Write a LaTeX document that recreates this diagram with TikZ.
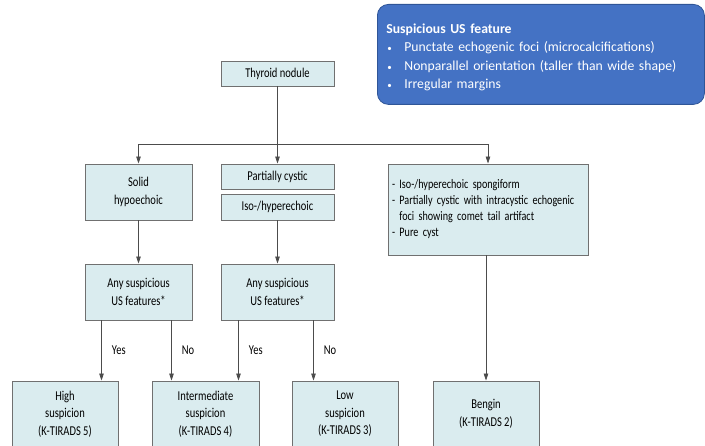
\documentclass[tikz,border=0pt]{standalone}
\usepackage{fontspec}
\setmainfont[FakeStretch=0.78]{Carlito}
\newfontfamily\featfont{Carlito}
\usepackage{xcolor}
\usetikzlibrary{arrows.meta}
\definecolor{boxfill}{HTML}{DAECEF}
\definecolor{boxline}{HTML}{707070}
\definecolor{featfill}{HTML}{4472C4}
\definecolor{featline}{HTML}{2F5597}
\newcommand{\featitem}{\makebox[18pt][l]{\hspace{1pt}\small\textbullet}}

\begin{document}
\begin{tikzpicture}[x=1pt,y=-1pt,
  box/.style={draw=boxline,line width=0.9pt,fill=boxfill,align=center,inner sep=2pt,
    font=\fontsize{13.5}{17.5}\selectfont},
  arr/.style={draw=black!70,line width=0.8pt,-{Triangle[length=7pt,width=4.5pt]}},
  lbl/.style={font=\fontsize{13.5}{15}\selectfont,inner xsep=10pt}]
\useasboundingbox (0,0) rectangle (705,446);
\clip (0,0) rectangle (705,446);
% suspicious features
\node[draw=featline,line width=0.8pt,fill=featfill,rounded corners=11pt,text=white,
  anchor=north west,minimum width=327,minimum height=100,text width=309,align=left,
  font=\featfont\fontsize{13.7}{18.5}\selectfont] (usfeat) at (377,4)
  {\rule{0pt}{16pt}\textbf{Suspicious US feature}\\
   \featitem Punctate echogenic foci (microcalcifications)\\
   \featitem Nonparallel orientation (taller than wide shape)\\
   \featitem Irregular margins};
% first level
\node[box,minimum width=113,minimum height=25] (nodule) at (277.5,73.5) {Thyroid nodule};
\node[box,minimum width=107,minimum height=56] (solid) at (138.5,192) {Solid\\hypoechoic};
\node[box,minimum width=113,minimum height=25] (cystic) at (277.5,176.5) {Partially cystic};
\node[box,minimum width=113,minimum height=26] (iso) at (277.5,207) {Iso-/hyperechoic};
\node[box,minimum width=200,minimum height=91,text width=192,align=left,
  font=\fontsize{13}{16}\selectfont] (spongy) at (488,209.5)
  {- Iso-/hyperechoic spongiform\\
   - Partially cystic with intracystic echogenic\\
   \phantom{- }foci showing comet tail artifact\\
   - Pure cyst};
\coordinate (split) at (277.5,144);
\draw[arr] (nodule) -- (cystic);
\draw[arr] (split) -| (solid);
\draw[arr] (split) -| (spongy);
% second level
\node[box,minimum width=107,minimum height=56] (anyL) at (138.5,292) {Any suspicious\\US features*};
\node[box,minimum width=113,minimum height=56] (anyR) at (277.5,292) {Any suspicious\\US features*};
\draw[arr] (solid) -- (anyL);
\draw[arr] (iso) -- (anyR);
% categories
\node[box,minimum width=106,minimum height=66] (high) at (65,414) {High\\suspicion\\(K-TIRADS 5)};
\node[box,minimum width=107,minimum height=66] (inter) at (205.5,414) {Intermediate\\suspicion\\(K-TIRADS 4)};
\node[box,minimum width=106,minimum height=66] (low) at (345,414) {Low\\suspicion\\(K-TIRADS 3)};
\node[box,minimum width=106,minimum height=66] (benign) at (486,414) {Bengin\\(K-TIRADS 2)};
\draw[arr] ([xshift=-37]anyL.south) -- ([xshift=-37]anyL.south |- high.north)
  node[lbl,midway,right] {Yes};
\draw[arr] ([xshift=33]anyL.south) -- ([xshift=33]anyL.south |- inter.north)
  node[lbl,midway,right] {No};
\draw[arr] ([xshift=-39]anyR.south) -- ([xshift=-39]anyR.south |- inter.north)
  node[lbl,midway,right] {Yes};
\draw[arr] ([xshift=36]anyR.south) -- ([xshift=36]anyR.south |- low.north)
  node[lbl,midway,right] {No};
\draw[arr] ([xshift=-2]spongy.south) -- ([xshift=-2]spongy.south |- benign.north);
\end{tikzpicture}
\end{document}
